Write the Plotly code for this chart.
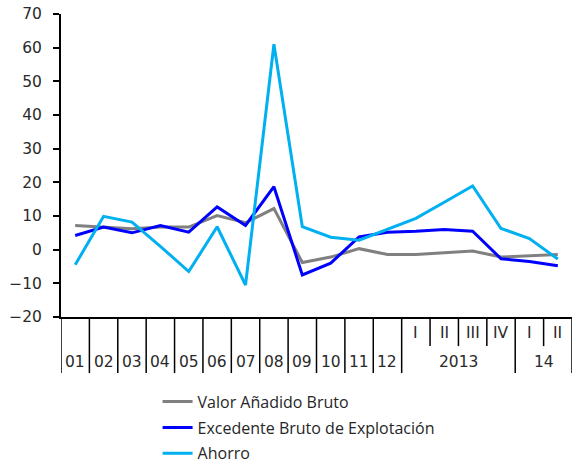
import plotly.graph_objects as go

# ---- data ----
categories = ["01", "02", "03", "04", "05", "06", "07", "08", "09", "10", "11", "12",
              "2013-I", "2013-II", "2013-III", "2013-IV", "14-I", "14-II"]
top_labels = ["", "", "", "", "", "", "", "", "", "", "", "",
              "I", "II", "III", "IV", "I", "II"]
bottom_labels = ["01", "02", "03", "04", "05", "06", "07", "08", "09", "10", "11", "12"]
year_groups = [("2013", 12, 16), ("14", 16, 18)]

vab = [7.2, 6.7, 6.2, 6.7, 6.7, 10.1, 8.0, 12.2, -3.8, -2.2, 0.3, -1.4,
       -1.4, -0.9, -0.4, -2.2, -1.8, -1.4]
ebe = [4.2, 6.7, 5.0, 7.2, 5.2, 12.7, 7.2, 18.7, -7.5, -4.0, 3.8, 5.2,
       5.5, 6.0, 5.5, -2.7, -3.5, -4.8]
ahorro = [-4.5, 9.9, 8.2, 1.0, -6.5, 6.8, -10.5, 61.0, 6.8, 3.7, 2.8, 6.0,
          9.3, 14.1, 18.9, 6.3, 3.3, -2.8]

series = [
    ("Valor Añadido Bruto", vab, "#808080"),
    ("Excedente Bruto de Explotación", ebe, "#0000FF"),
    ("Ahorro", ahorro, "#00B0F0"),
]

n = len(categories)
xs = [i + 0.5 for i in range(n)]

fig = go.Figure()
for idx, (name, vals, color) in enumerate(series):
    fig.add_trace(go.Scatter(x=xs, y=vals, name=name, mode="lines",
                             legendgroup="g%d" % idx,
                             line=dict(color=color, width=3)))

FONT = "Open Sans"
AXFONT = "DejaVu Sans"
txt_color = "#262626"
axfont = dict(family=AXFONT, size=15.5, color="#2a2a2a")

# divider lines below the x axis
full_bottom = -0.185
short_bottom = -0.096
full_bounds = set(range(0, 13)) | {16, 18}
shapes = []
for k in range(n + 1):
    yb = full_bottom if k in full_bounds else short_bottom
    shapes.append(dict(type="line", xref="x", yref="paper", x0=k, x1=k,
                       y0=0, y1=yb, line=dict(color="#000000", width=1.5)))

annotations = []
for i, lab in enumerate(bottom_labels):
    annotations.append(dict(x=i + 0.5, y=-0.149, xref="x", yref="paper", text=lab,
                            showarrow=False, yanchor="middle", font=axfont))
for i, lab in enumerate(top_labels):
    if lab:
        annotations.append(dict(x=i + 0.5, y=-0.053, xref="x", yref="paper", text=lab,
                                showarrow=False, yanchor="middle", font=axfont))
for lab, a, b in year_groups:
    annotations.append(dict(x=(a + b) / 2, y=-0.149, xref="x", yref="paper", text=lab,
                            showarrow=False, yanchor="middle", font=axfont))

fig.update_layout(
    width=576, height=466,
    margin=dict(l=61, r=4, t=14, b=149, autoexpand=False),
    paper_bgcolor="white", plot_bgcolor="white",
    font=dict(family=FONT, size=16, color=txt_color),
    showlegend=True,
    legend=dict(x=0.189, y=-0.2235, xanchor="left", yanchor="top",
                orientation="v", font=dict(family=FONT, size=16, color=txt_color),
                tracegroupgap=2, itemwidth=30),
    shapes=shapes,
    annotations=annotations,
)
fig.update_xaxes(range=[0, n], showgrid=False, zeroline=False, showticklabels=False,
                 showline=True, linecolor="#000000", linewidth=2, ticks="",
                 automargin=False)
fig.update_yaxes(range=[-20, 70], dtick=10, showgrid=False, zeroline=False,
                 showline=True, linecolor="#000000", linewidth=2,
                 ticks="outside", ticklen=6, tickwidth=2, tickcolor="#000000",
                 tickfont=axfont, ticklabelstandoff=8,
                 automargin=False)

fig.write_html("out.html", config={"displayModeBar": False},
               post_script="document.body.style.margin='0';document.body.style.padding='0';")
